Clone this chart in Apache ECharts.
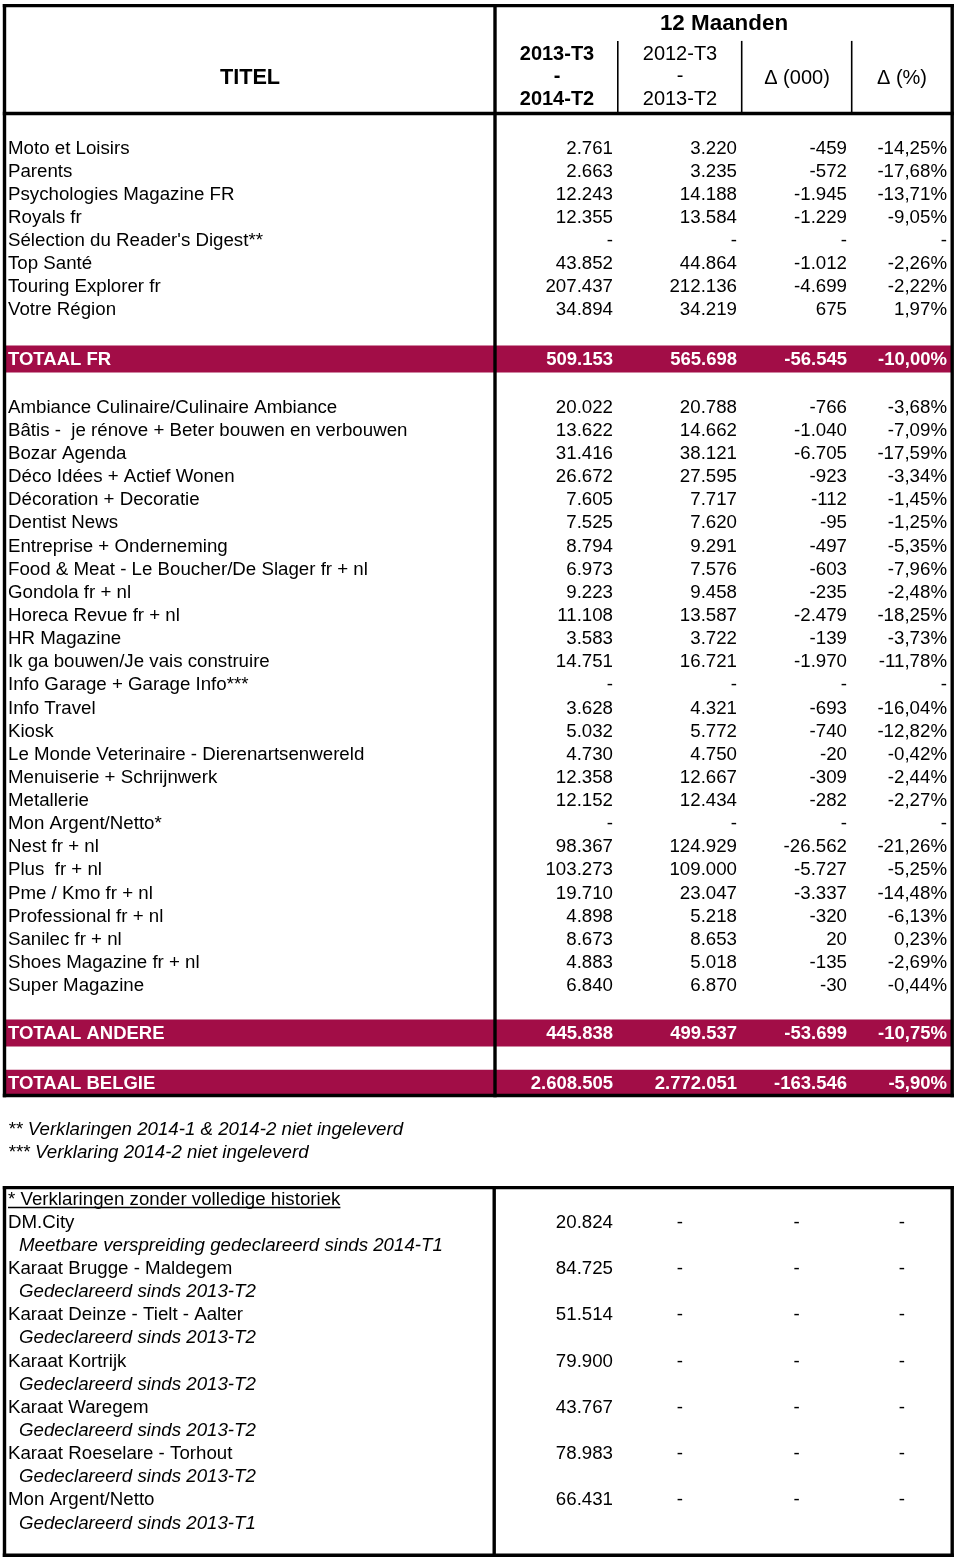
<!DOCTYPE html>
<html>
<head>
<meta charset="utf-8">
<script src="https://cdn.jsdelivr.net/npm/echarts@6/dist/echarts.min.js"></script>
<style>
    html, body { margin: 0; padding: 0; background: #fff; }
    #main { width: 960px; height: 1562px; }
</style>
</head>
<body>
<div id="main"></div>
<script>
// kop
var titleLabel = 'TITEL';
var periodLabel = '12 Maanden';
var curPeriod = ['2013-T3', '-', '2014-T2'];
var prevPeriod = ['2012-T3', '-', '2013-T2'];
var deltaLabels = ['\u0394 (000)', '\u0394 (%)'];

// Franstalige titels
var frNames = ['Moto et Loisirs', 'Parents', 'Psychologies Magazine FR', 'Royals fr',
    "S\u00e9lection du Reader's Digest**", 'Top Sant\u00e9', 'Touring Explorer fr', 'Votre R\u00e9gion'];
var frCur   = [2761, 2663, 12243, 12355, null, 43852, 207437, 34894];
var frPrev  = [3220, 3235, 14188, 13584, null, 44864, 212136, 34219];
var frDiff  = [-459, -572, -1945, -1229, null, -1012, -4699, 675];
var frPct   = [-14.25, -17.68, -13.71, -9.05, null, -2.26, -2.22, 1.97];
var frTotal = [509153, 565698, -56545, -10.00];

// andere titels
var otherNames = ['Ambiance Culinaire/Culinaire Ambiance', 'B\u00e2tis -  je r\u00e9nove + Beter bouwen en verbouwen',
    'Bozar Agenda', 'D\u00e9co Id\u00e9es + Actief Wonen', 'D\u00e9coration + Decoratie', 'Dentist News',
    'Entreprise + Onderneming', 'Food & Meat - Le Boucher/De Slager fr + nl', 'Gondola fr + nl',
    'Horeca Revue fr + nl', 'HR Magazine', 'Ik ga bouwen/Je vais construire', 'Info Garage + Garage Info***',
    'Info Travel', 'Kiosk', 'Le Monde Veterinaire - Dierenartsenwereld', 'Menuiserie + Schrijnwerk',
    'Metallerie', 'Mon Argent/Netto*', 'Nest fr + nl', 'Plus  fr + nl', 'Pme / Kmo fr + nl',
    'Professional fr + nl', 'Sanilec fr + nl', 'Shoes Magazine fr + nl', 'Super Magazine'];
var otherCur  = [20022, 13622, 31416, 26672, 7605, 7525, 8794, 6973, 9223, 11108, 3583, 14751, null,
    3628, 5032, 4730, 12358, 12152, null, 98367, 103273, 19710, 4898, 8673, 4883, 6840];
var otherPrev = [20788, 14662, 38121, 27595, 7717, 7620, 9291, 7576, 9458, 13587, 3722, 16721, null,
    4321, 5772, 4750, 12667, 12434, null, 124929, 109000, 23047, 5218, 8653, 5018, 6870];
var otherDiff = [-766, -1040, -6705, -923, -112, -95, -497, -603, -235, -2479, -139, -1970, null,
    -693, -740, -20, -309, -282, null, -26562, -5727, -3337, -320, 20, -135, -30];
var otherPct  = [-3.68, -7.09, -17.59, -3.34, -1.45, -1.25, -5.35, -7.96, -2.48, -18.25, -3.73, -11.78, null,
    -16.04, -12.82, -0.42, -2.44, -2.27, null, -21.26, -5.25, -14.48, -6.13, 0.23, -2.69, -0.44];
var otherTotal  = [445838, 499537, -53699, -10.75];
var belgieTotal = [2608505, 2772051, -163546, -5.90];

var footnotes = ['** Verklaringen 2014-1 & 2014-2 niet ingeleverd', '*** Verklaring 2014-2 niet ingeleverd'];

// verklaringen zonder volledige historiek
var histHeading = '* Verklaringen zonder volledige historiek';
var histNames = ['DM.City', 'Karaat Brugge - Maldegem', 'Karaat Deinze - Tielt - Aalter', 'Karaat Kortrijk',
    'Karaat Waregem', 'Karaat Roeselare - Torhout', 'Mon Argent/Netto'];
var histNotes = ['Meetbare verspreiding gedeclareerd sinds 2014-T1', 'Gedeclareerd sinds 2013-T2',
    'Gedeclareerd sinds 2013-T2', 'Gedeclareerd sinds 2013-T2', 'Gedeclareerd sinds 2013-T2',
    'Gedeclareerd sinds 2013-T2', 'Gedeclareerd sinds 2013-T1'];
var histCur = [20824, 84725, 51514, 79900, 43767, 78983, 66431];

// opmaak
var FONT = '"Liberation Sans", Arial, Helvetica, sans-serif';
var BAND = '#a20d47';
var ROW = 23.13, TOT = 27;
var NAME_X = 8, NOTE_X = 19;
var colRight = [613, 737, 847, 947];
var X_LEFT = 4.5, X_RIGHT = 952.2, X_DIV = 495, X_DIV2 = 494.2;
var colSep = [617.8, 741.7, 851.7];
var Y_TOP = 5.6, Y_HEAD = 113.5, BOX_TOP = 1187.6, BOX_BOTTOM = 1555.3;

function fmtNum(v) {
    if (v == null) return '-';
    var s = Math.abs(v).toString().replace(/\B(?=(\d{3})+(?!\d))/g, '.');
    return (v < 0 ? '-' : '') + s;
}
function fmtPct(v) {
    if (v == null) return '-';
    return v.toFixed(2).replace('.', ',') + '%';
}

var cells = [];
var bands = [];
var y = 135.8;

function pushRow(name, vals, total) {
    var h = total ? TOT : ROW;
    var cy = y + h / 2;
    var kind = total ? 'white' : 'norm';
    cells.push({x: NAME_X, y: cy, text: name, align: 'left', kind: kind});
    var txt = [fmtNum(vals[0]), fmtNum(vals[1]), fmtNum(vals[2]), fmtPct(vals[3])];
    for (var i = 0; i < 4; i++) {
        cells.push({x: colRight[i], y: cy, text: txt[i], align: 'right', kind: kind});
    }
    if (total) bands.push(cy);
    y += h;
}

for (var i = 0; i < frNames.length; i++) {
    pushRow(frNames[i], [frCur[i], frPrev[i], frDiff[i], frPct[i]], false);
}
y += ROW + 1.5;
pushRow('TOTAAL FR', frTotal, true);
y += ROW - 0.5;
for (var i = 0; i < otherNames.length; i++) {
    pushRow(otherNames[i], [otherCur[i], otherPrev[i], otherDiff[i], otherPct[i]], false);
}
y += ROW;
pushRow('TOTAAL ANDERE', otherTotal, true);
y += ROW;
pushRow('TOTAAL BELGIE', belgieTotal, true);
var tableBottom = Math.min(y, 1095.5);

// kop
cells.push({x: 250, y: 77, text: titleLabel, align: 'center', kind: 'titel'});
cells.push({x: 724, y: 23, text: periodLabel, align: 'center', kind: 'maanden'});
curPeriod.forEach(function (t, k) {
    cells.push({x: 557, y: 53 + k * 22.5, text: t, align: 'center', kind: 'headBold'});
});
prevPeriod.forEach(function (t, k) {
    cells.push({x: 680, y: 53 + k * 22.5, text: t, align: 'center', kind: 'head'});
});
cells.push({x: 797, y: 77, text: deltaLabels[0], align: 'center', kind: 'head'});
cells.push({x: 902, y: 77, text: deltaLabels[1], align: 'center', kind: 'head'});

// voetnoten
footnotes.forEach(function (t, k) {
    cells.push({x: NAME_X, y: tableBottom + 33.5 + k * ROW, text: t, align: 'left', kind: 'italic'});
});

// onderste kader
var hy = 1198.5;
cells.push({x: NAME_X, y: hy, text: histHeading, align: 'left', kind: 'underline'});
var dashX = [(colSep[0] + colSep[1]) / 2, (colSep[1] + colSep[2]) / 2, (colSep[2] + X_RIGHT) / 2];
histNames.forEach(function (n, k) {
    var ny = hy + (1 + k * 2) * ROW;
    cells.push({x: NAME_X, y: ny, text: n, align: 'left', kind: 'norm'});
    cells.push({x: colRight[0], y: ny, text: fmtNum(histCur[k]), align: 'right', kind: 'norm'});
    dashX.forEach(function (dx) {
        cells.push({x: dx, y: ny, text: '-', align: 'center', kind: 'norm'});
    });
    cells.push({x: NOTE_X, y: ny + ROW, text: histNotes[k], align: 'left', kind: 'italic'});
});

// lijnen [x1, y1, x2, y2, dikte]
var T = 3.4;
var frameLines = [
    [X_LEFT, Y_TOP, X_RIGHT, Y_TOP, T],
    [X_LEFT, Y_TOP, X_LEFT, tableBottom, T],
    [X_RIGHT, Y_TOP, X_RIGHT, tableBottom, T],
    [X_LEFT, tableBottom, X_RIGHT, tableBottom, T],
    [X_DIV, Y_TOP, X_DIV, tableBottom, T],
    [X_LEFT, Y_HEAD, X_RIGHT, Y_HEAD, T],
    [colSep[0], 41.7, colSep[0], Y_HEAD, 1.6],
    [colSep[1], 41.7, colSep[1], Y_HEAD, 1.6],
    [colSep[2], 41.7, colSep[2], Y_HEAD, 1.6],
    [X_LEFT, BOX_TOP, X_RIGHT, BOX_TOP, T],
    [X_LEFT, BOX_TOP, X_LEFT, BOX_BOTTOM, T],
    [X_RIGHT, BOX_TOP, X_RIGHT, BOX_BOTTOM, T],
    [X_LEFT, BOX_BOTTOM, X_RIGHT, BOX_BOTTOM, T],
    [X_DIV2, BOX_TOP, X_DIV2, BOX_BOTTOM, T]
];

var styles = {
    norm:      {fontSize: 18.7, fontWeight: 'normal', fontStyle: 'normal', fill: '#000'},
    white:     {fontSize: 18.5, fontWeight: 'bold', fontStyle: 'normal', fill: '#fff'},
    italic:    {fontSize: 18.7, fontWeight: 'normal', fontStyle: 'italic', fill: '#000'},
    underline: {fontSize: 18.7, fontWeight: 'normal', fontStyle: 'normal', fill: '#000'},
    titel:     {fontSize: 21.7, fontWeight: 'bold', fontStyle: 'normal', fill: '#000'},
    maanden:   {fontSize: 22.4, fontWeight: 'bold', fontStyle: 'normal', fill: '#000'},
    head:      {fontSize: 20, fontWeight: 'normal', fontStyle: 'normal', fill: '#000'},
    headBold:  {fontSize: 20, fontWeight: 'bold', fontStyle: 'normal', fill: '#000'}
};

var measureCtx = document.createElement('canvas').getContext('2d');

var myChart = echarts.init(document.getElementById('main'));
myChart.setOption({
    animation: false,
    backgroundColor: '#fff',
    grid: {left: 0, right: 0, top: 0, bottom: 0},
    xAxis: {type: 'value', min: 0, max: 960, show: false},
    yAxis: {type: 'value', min: 0, max: 1562, inverse: true, show: false},
    series: [
        {
            type: 'custom',
            name: 'band',
            z: 1,
            data: bands,
            encode: {y: 0},
            renderItem: function (params, api) {
                var cy = bands[params.dataIndex];
                var p1 = api.coord([X_LEFT, cy - TOT / 2]);
                var p2 = api.coord([X_RIGHT, cy + TOT / 2]);
                return {
                    type: 'rect',
                    shape: {x: p1[0], y: p1[1], width: p2[0] - p1[0], height: p2[1] - p1[1]},
                    style: {fill: BAND}
                };
            }
        },
        {
            type: 'custom',
            name: 'lijnen',
            z: 3,
            data: frameLines.map(function (l) { return [l[0], l[1]]; }),
            renderItem: function (params, api) {
                var l = frameLines[params.dataIndex];
                var a = api.coord([l[0], l[1]]);
                var b = api.coord([l[2], l[3]]);
                return {
                    type: 'line',
                    shape: {x1: a[0], y1: a[1], x2: b[0], y2: b[1]},
                    style: {stroke: '#000', lineWidth: l[4], lineCap: 'square'}
                };
            }
        },
        {
            type: 'custom',
            name: 'cellen',
            z: 4,
            data: cells.map(function (c) { return [c.x, c.y]; }),
            renderItem: function (params, api) {
                var c = cells[params.dataIndex];
                var s = styles[c.kind];
                var p = api.coord([c.x, c.y]);
                var txt = {
                    type: 'text',
                    x: p[0],
                    y: p[1] + 1,
                    style: {
                        text: c.text,
                        fill: s.fill,
                        fontSize: s.fontSize,
                        fontWeight: s.fontWeight,
                        fontStyle: s.fontStyle,
                        fontFamily: FONT,
                        align: c.align,
                        verticalAlign: 'middle'
                    }
                };
                if (c.kind !== 'underline') return txt;
                measureCtx.font = s.fontSize + 'px ' + FONT;
                var w = measureCtx.measureText(c.text).width;
                return {
                    type: 'group',
                    children: [txt, {
                        type: 'line',
                        shape: {x1: p[0], y1: p[1] + 9, x2: p[0] + w, y2: p[1] + 9},
                        style: {stroke: '#000', lineWidth: 1.3}
                    }]
                };
            }
        }
    ]
});
</script>
</body>
</html>
